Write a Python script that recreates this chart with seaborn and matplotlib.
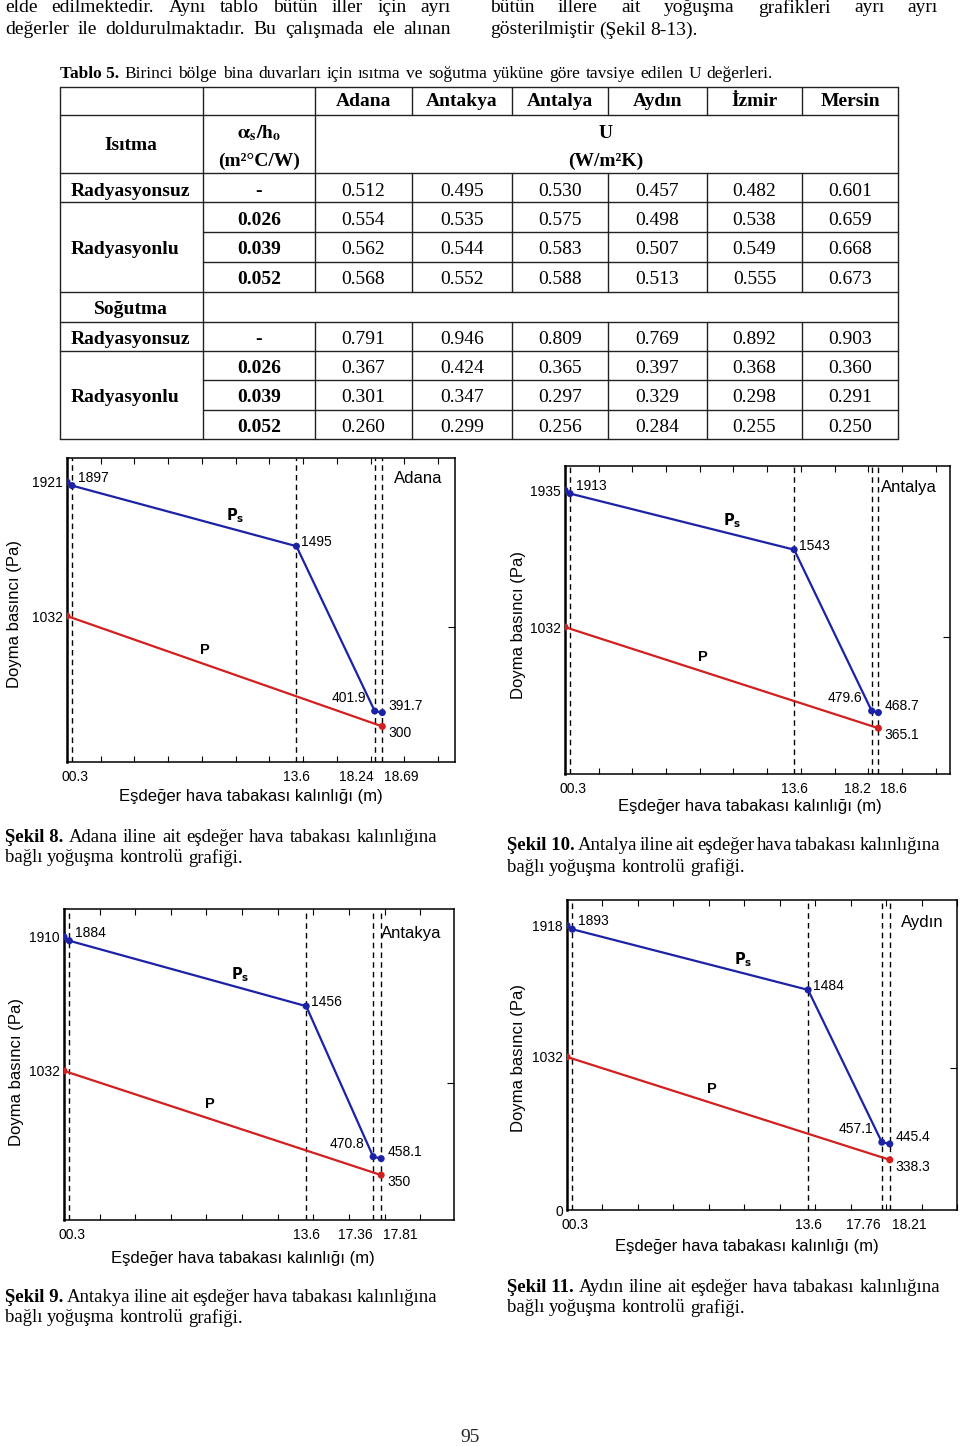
import numpy as np
import pandas as pd
import matplotlib
matplotlib.use("Agg")
import matplotlib.pyplot as plt
import seaborn as sns
from matplotlib.ticker import FixedLocator, MultipleLocator
from matplotlib.transforms import ScaledTranslation

# ---------------------------
# Data
# ---------------------------
# table 5: recommended U values
table_cities = ["Adana", "Antakya", "Antalya", "Aydın", "İzmir", "Mersin"]
ratio_labels = ["0.026", "0.039", "0.052"]
heat_none = [0.512, 0.495, 0.530, 0.457, 0.482, 0.601]
heat_rad = [
    [0.554, 0.535, 0.575, 0.498, 0.538, 0.659],
    [0.562, 0.544, 0.583, 0.507, 0.549, 0.668],
    [0.568, 0.552, 0.588, 0.513, 0.555, 0.673],
]
cool_none = [0.791, 0.946, 0.809, 0.769, 0.892, 0.903]
cool_rad = [
    [0.367, 0.424, 0.365, 0.397, 0.368, 0.360],
    [0.301, 0.347, 0.297, 0.329, 0.298, 0.291],
    [0.260, 0.299, 0.256, 0.284, 0.255, 0.250],
]

# condensation charts (order: top-left, top-right, bottom-left, bottom-right)
cities = ["Adana", "Antalya", "Antakya", "Aydın"]
fig_nums = [8, 10, 9, 11]
x_layers = [
    [0, 0.3, 13.6, 18.24, 18.69],
    [0, 0.3, 13.6, 18.2, 18.6],
    [0, 0.3, 13.6, 17.36, 17.81],
    [0, 0.3, 13.6, 17.76, 18.21],
]
ps_vals = [
    [1921, 1897, 1495, 401.9, 391.7],
    [1935, 1913, 1543, 479.6, 468.7],
    [1910, 1884, 1456, 470.8, 458.1],
    [1918, 1893, 1484, 457.1, 445.4],
]
p_start = [1032, 1032, 1032, 1032]
p_end = [300, 365.1, 350, 338.3]

# ---------------------------
# Layout (pixels)
# ---------------------------
W, H = 960, 1446
boxes = [(67, 458, 455, 762), (565, 466, 950, 774),
         (64, 909, 454, 1220), (567, 900, 957, 1210)]
x_max = [23.0, 22.85, 21.9, 22.0]
y_lims = [(64, 2080), (63, 2095), (56, 2092), (0, 2090)]
xlab_pos = [(251, 797), (750, 807), (243, 1258), (747, 1246)]
ylab_pos = [(15, 614), (518, 625), (17, 1072), (518, 1058)]
cap_pos = [(5, 437, 837, 858), (507, 940, 845, 867),
           (5, 437, 1298, 1318), (507, 940, 1287, 1308)]

BLUE = "#1c22a6"
RED = "#d21f1f"
SERIF = "Liberation Serif"
SANS = "Liberation Sans"

sns.set_theme(style="ticks")
plt.rcParams["font.family"] = [SANS, "DejaVu Sans"]

fig = plt.figure(figsize=(W / 100, H / 100), dpi=100)
page = fig.add_axes([0, 0, 1, 1])
page.set_xlim(0, W)
page.set_ylim(H, 0)
page.set_axis_off()
page.patch.set_visible(False)
renderer = fig.canvas.get_renderer()


def put_line(parts, x0, y, size, x1=None):
    """parts: list of (word, weight); justified when x1 is given."""
    texts = [page.text(0, y, w, fontsize=size, fontweight=wt, family=SERIF,
                       va="center", ha="left", color="black") for w, wt in parts]
    widths = [t.get_window_extent(renderer).width for t in texts]
    if x1 is None or len(texts) < 2:
        gap = size * 0.25 * 100 / 72
    else:
        gap = (x1 - x0 - sum(widths)) / (len(texts) - 1)
    x = x0
    for t, w in zip(texts, widths):
        t.set_x(x)
        x += w + gap


def words(s, wt="normal"):
    return [(w, wt) for w in s.split()]


# ---------------------------
# Body text
# ---------------------------
put_line(words("elde edilmektedir. Aynı tablo bütün iller için ayrı"), 5, 8, 14, 451)
put_line(words("değerler ile doldurulmaktadır. Bu çalışmada ele alınan"), 5, 30, 14, 451)
put_line(words("bütün illere ait yoğuşma grafikleri ayrı ayrı"), 490, 8, 14, 938)
put_line(words("gösterilmiştir (Şekil 8-13)."), 490, 30, 14)
put_line([("Tablo 5.", "bold")] + words("Birinci bölge bina duvarları için ısıtma ve "
         "soğutma yüküne göre tavsiye edilen U değerleri."), 60, 74, 12.5, 773)

# ---------------------------
# Table
# ---------------------------
col_x = [60, 203, 315, 412, 512, 608, 707, 802, 898]
row_y = [87, 115, 173, 202, 232, 262, 292, 322, 351, 380, 410, 439]
lk = dict(color="#222222", lw=1.0)
for yy in row_y:
    x_from = 203 if yy in (232, 262, 380, 410) else 60
    page.plot([x_from, 898], [yy, yy], **lk)
for xx in [60, 203, 898]:
    page.plot([xx, xx], [87, 439], **lk)
page.plot([315, 315], [87, 292], **lk)
page.plot([315, 315], [322, 439], **lk)
for xx in col_x[3:-1]:
    page.plot([xx, xx], [87, 115], **lk)
    page.plot([xx, xx], [173, 292], **lk)
    page.plot([xx, xx], [322, 439], **lk)

tk = dict(family=SERIF, fontsize=14, va="center", color="black")
col_c = [(col_x[i] + col_x[i + 1]) / 2 for i in range(len(col_x) - 1)]
for j, c in enumerate(table_cities):
    page.text(col_c[j + 2], 102, c, ha="center", fontweight="bold", **tk)
page.text(131, 145, "Isıtma", ha="center", fontweight="bold", **tk)
page.text(259, 133, r"$\mathbf{\alpha_s/h_o}$", ha="center", math_fontfamily="stix", **tk)
page.text(259, 161, "(m²°C/W)", ha="center", fontweight="bold", **tk)
page.text(606, 133, "U", ha="center", fontweight="bold", **tk)
page.text(606, 161, "(W/m²K)", ha="center", fontweight="bold", **tk)
page.text(131, 309, "Soğutma", ha="center", fontweight="bold", **tk)

blocks = [(191, heat_none, heat_rad), (339, cool_none, cool_rad)]
for y0, none_vals, rad_vals in blocks:
    page.text(71, y0, "Radyasyonsuz", ha="left", fontweight="bold", **tk)
    page.text(259, y0, "-", ha="center", fontweight="bold", **tk)
    for j, v in enumerate(none_vals):
        page.text(col_c[j + 2], y0, f"{v:.3f}", ha="center", **tk)
    page.text(71, y0 + 59, "Radyasyonlu", ha="left", fontweight="bold", **tk)
    for k, row in enumerate(rad_vals):
        yy = y0 + 29.5 * (k + 1)
        page.text(259, yy, ratio_labels[k], ha="center", fontweight="bold", **tk)
        for j, v in enumerate(row):
            page.text(col_c[j + 2], yy, f"{v:.3f}", ha="center", **tk)

# ---------------------------
# Charts
# ---------------------------
label_style = [("center", 3), ("center", 0), ("right", -1), ("left", 2)]

for i, city in enumerate(cities):
    l, t, r, b = boxes[i]
    ax = fig.add_axes([l / W, 1 - b / H, (r - l) / W, (b - t) / H])
    xs, ps = x_layers[i], ps_vals[i]
    ps_df = pd.DataFrame({"x": xs, "y": ps})
    p_df = pd.DataFrame({"x": [xs[0], xs[-1]], "y": [p_start[i], p_end[i]]})

    for xv in xs[1:]:
        ax.axvline(xv, color="black", lw=1.0, ls=(0, (4, 3)), zorder=1)

    sns.lineplot(data=p_df, x="x", y="y", color=RED, lw=1.6, ax=ax,
                 estimator=None, sort=False, zorder=2)
    sns.lineplot(data=ps_df, x="x", y="y", color=BLUE, lw=1.6, ax=ax,
                 estimator=None, sort=False, zorder=2)
    sns.scatterplot(data=ps_df, x="x", y="y", color=BLUE, s=26, edgecolor="none",
                    ax=ax, zorder=3)
    sns.scatterplot(data=p_df, x="x", y="y", color=RED, s=26, edgecolor="none",
                    ax=ax, zorder=3)

    ax.set_xlim(0, x_max[i])
    ax.set_ylim(*y_lims[i])

    # x ticks
    ax.set_xticks(xs[1:])
    ax.set_xticklabels(["00.3"] + [f"{v:g}" for v in xs[2:]], fontsize=10)
    ax.tick_params(axis="x", which="major", length=0, pad=6, colors="black")
    for lab, (ha, dx) in zip(ax.get_xticklabels(), label_style):
        lab.set_ha(ha)
        lab.set_transform(lab.get_transform() + ScaledTranslation(dx / 100, 0, fig.dpi_scale_trans))
    ax.xaxis.set_minor_locator(MultipleLocator(2))
    ax.tick_params(axis="x", which="minor", direction="in", length=4, width=0.8,
                   top=True, bottom=True, color="black")

    # y ticks
    yt = [1032, ps[0]] + ([0] if y_lims[i][0] == 0 else [])
    ax.set_yticks(yt)
    ax.set_yticklabels([f"{v:g}" for v in yt], fontsize=10)
    ax.tick_params(axis="y", which="major", length=0, pad=3, colors="black")
    ax.yaxis.set_minor_locator(FixedLocator([ps[0] / 2, ps[0]]))
    ax.tick_params(axis="y", which="minor", left=False, right=True, direction="in",
                   length=5, width=0.8, color="black")

    for s in ax.spines.values():
        s.set_color("black")
        s.set_linewidth(1.1)
    ax.spines["left"].set_linewidth(1.8)

    # point labels
    offs = [None, ("left", 6, 8), ("left", 5, 4), ("right", -9, 13), ("left", 6, 7)]
    for k in range(1, len(xs)):
        ha, dx, dy = offs[k]
        ax.annotate(f"{ps[k]:g}", (xs[k], ps[k]), xytext=(dx, dy), textcoords="offset pixels",
                    ha=ha, va="center", fontsize=10, color="black")
    ax.annotate(f"{p_end[i]:g}", (xs[-1], p_end[i]), xytext=(6, -7), textcoords="offset pixels",
                ha="left", va="center", fontsize=10, color="black")

    # curve names
    ax.annotate(r"$\mathbf{P_s}$", (9.4, np.interp(9.4, xs, ps)), xytext=(0, 11),
                textcoords="offset pixels", ha="left", va="center", fontsize=10.5,
                math_fontfamily="dejavusans", color="black")
    ax.annotate("P", (7.9, np.interp(7.9, p_df["x"], p_df["y"])), xytext=(0, 13),
                textcoords="offset pixels", ha="left", va="center", fontsize=10.5,
                fontweight="bold", color="black")

    ax.annotate(city, (1, ps[0]), xycoords=("axes fraction", "data"), xytext=(-13, 3),
                textcoords="offset pixels", ha="right", va="center", fontsize=12,
                color="black")

    ax.set_xlabel("Eşdeğer hava tabakası kalınlığı (m)", fontsize=12, color="black")
    ax.xaxis.label.set_va("center")
    xc, yc = xlab_pos[i]
    ax.xaxis.set_label_coords((xc - l) / (r - l), (b - yc) / (b - t))
    ax.set_ylabel("Doyma basıncı (Pa)", fontsize=12, color="black")
    ax.yaxis.label.set_va("center")
    xc, yc = ylab_pos[i]
    ax.yaxis.set_label_coords((xc - l) / (r - l), (b - yc) / (b - t))

    # caption
    x0, x1, y1, y2 = cap_pos[i]
    put_line([(f"Şekil {fig_nums[i]}.", "bold")] +
             words(f"{city} iline ait eşdeğer hava tabakası kalınlığına"), x0, y1, 13.5, x1)
    put_line(words("bağlı yoğuşma kontrolü grafiği."), x0, y2, 13.5)

page.text(470, 1438, "95", family=SERIF, fontsize=14, ha="center", va="center")

fig.savefig("out.png", dpi=100)
